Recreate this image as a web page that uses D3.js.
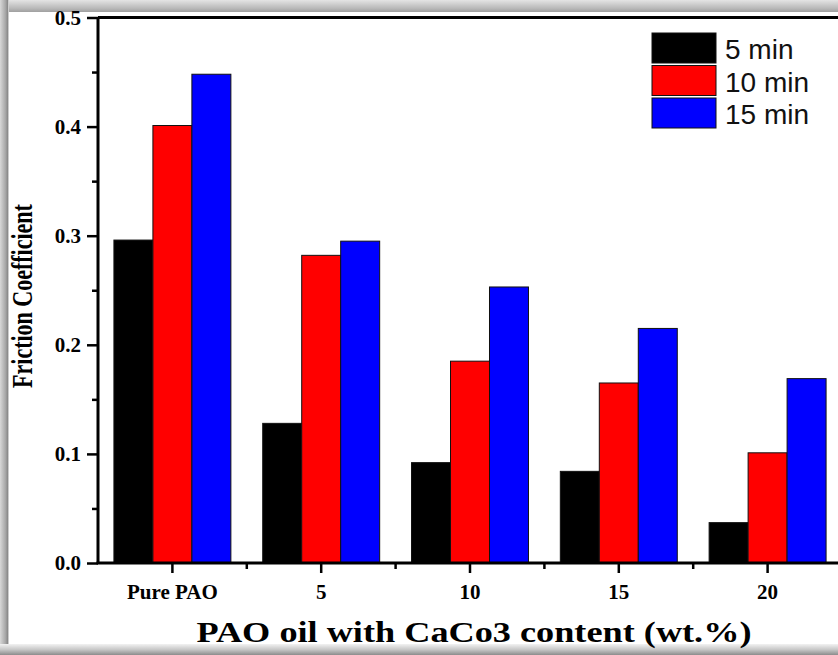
<!DOCTYPE html>
<html>
<head>
<meta charset="utf-8">
<script src="https://cdn.jsdelivr.net/npm/d3@7"></script>
<style>
  html, body { margin: 0; padding: 0; background: #fff; }
  svg { display: block; }
</style>
</head>
<body>
<svg id="chart" width="838" height="655"></svg>
<script>
// Friction coefficient of PAO oil with CaCO3 additive, measured after 5/10/15 min
const categories = ["Pure PAO", "5", "10", "15", "20"];
const seriesNames = ["5 min", "10 min", "15 min"];
const seriesColors = ["#000000", "#ff0000", "#0000ff"];
const values5min  = [0.296, 0.128, 0.092, 0.084, 0.037];
const values10min = [0.401, 0.282, 0.185, 0.165, 0.101];
const values15min = [0.448, 0.295, 0.253, 0.215, 0.169];
const yTicks = [0.0, 0.1, 0.2, 0.3, 0.4, 0.5];
const yMinorTicks = [0.05, 0.15, 0.25, 0.35, 0.45];

const seriesValues = [values5min, values10min, values15min];

const svg = d3.select("#chart");
const W = 838, H = 655;
const plot = { left: 98, right: 842, top: 17.5, bottom: 563 };

// Soft grey frame around the page edges
const defs = svg.append("defs");
function grad(id, x1, y1, x2, y2, stops) {
  const g = defs.append("linearGradient").attr("id", id)
    .attr("x1", x1).attr("y1", y1).attr("x2", x2).attr("y2", y2);
  stops.forEach(s => g.append("stop").attr("offset", s[0]).attr("stop-color", s[1]));
}
grad("gTop", 0, 0, 0, 1, [[0, "#e4e4e4"], [0.7, "#b8b8b8"], [1, "#a0a0a0"]]);
grad("gLeft", 0, 0, 1, 0, [[0, "#d8d8d8"], [0.6, "#a8a8a8"], [0.85, "#8a8a8a"], [1, "#f4f4f4"]]);
grad("gBottom", 0, 0, 0, 1, [[0, "#f2f2f2"], [0.5, "#c8c8c8"], [1, "#8c8c8c"]]);

svg.append("rect").attr("width", W).attr("height", H).attr("fill", "#fff");

// Edge shading (under the chart text)
svg.append("rect").attr("x", 0).attr("y", 0).attr("width", W).attr("height", 12).attr("fill", "url(#gTop)");
svg.append("rect").attr("x", 0).attr("y", 0).attr("width", 9).attr("height", H).attr("fill", "url(#gLeft)");
svg.append("rect").attr("x", 0).attr("y", 644).attr("width", W).attr("height", 11).attr("fill", "url(#gBottom)");

const x0 = d3.scaleBand().domain(categories).range([plot.left, plot.right])
  .paddingInner(0.214).paddingOuter(0.107);
const x1 = d3.scaleBand().domain(seriesNames).range([0, x0.bandwidth()]);
const y = d3.scaleLinear().domain([0, 0.5]).range([plot.bottom, plot.top]);

// Bars
const groups = svg.append("g").selectAll("g").data(categories).join("g")
  .attr("transform", d => `translate(${x0(d)},0)`);
groups.selectAll("rect")
  .data((c, i) => seriesNames.map((s, k) => ({ s, k, v: seriesValues[k][i] })))
  .join("rect")
  .attr("x", d => x1(d.s))
  .attr("width", x1.bandwidth())
  .attr("y", d => y(d.v))
  .attr("height", d => y(0) - y(d.v))
  .attr("fill", d => seriesColors[d.k])
  .attr("stroke", "#111")
  .attr("stroke-width", 1);

// Top frame line
svg.append("line").attr("x1", plot.left).attr("x2", W).attr("y1", plot.top).attr("y2", plot.top)
  .attr("stroke", "#000").attr("stroke-width", 3);

// Y axis
const yAxis = d3.axisLeft(y).tickValues(yTicks).tickFormat(d3.format(".1f"))
  .tickSize(11).tickPadding(6);
const gy = svg.append("g").attr("transform", `translate(${plot.left},0)`).call(yAxis);
gy.select(".domain").attr("stroke-width", 3).attr("d", `M0,${plot.top}V${plot.bottom}`);
gy.selectAll(".tick line").attr("stroke-width", 2.5);
gy.selectAll(".tick text").attr("font-family", "Liberation Serif").attr("font-weight", "bold")
  .attr("font-size", 21).attr("fill", "#000");
const gyMinor = svg.append("g").attr("transform", `translate(${plot.left},0)`)
  .call(d3.axisLeft(y).tickValues(yMinorTicks).tickSize(6).tickFormat(""));
gyMinor.select(".domain").remove();
gyMinor.selectAll(".tick line").attr("stroke-width", 2.5);

// X axis
const xAxis = d3.axisBottom(x0).tickSize(10).tickPadding(11).tickSizeOuter(0);
const gx = svg.append("g").attr("transform", `translate(0,${plot.bottom})`).call(xAxis);
gx.select(".domain").attr("stroke-width", 3).attr("d", `M${plot.left - 1.5},0H${W}`);
gx.selectAll(".tick line").attr("stroke-width", 2.5);
gx.selectAll(".tick text").attr("font-family", "Liberation Serif").attr("font-weight", "bold")
  .attr("font-size", 21).attr("fill", "#000");
const boundaries = categories.slice(0, -1).map(c => x0(c) + x0.bandwidth() + x0.step() * x0.paddingInner() / 2);
svg.append("g").selectAll("line").data(boundaries).join("line")
  .attr("x1", d => d).attr("x2", d => d)
  .attr("y1", plot.bottom).attr("y2", plot.bottom + 6)
  .attr("stroke", "#000").attr("stroke-width", 2.5);

// Axis titles
svg.append("text")
  .attr("x", 474).attr("y", 642)
  .attr("text-anchor", "middle")
  .attr("font-family", "Liberation Serif").attr("font-weight", "bold")
  .attr("font-size", 30).attr("fill", "#000")
  .attr("textLength", 555).attr("lengthAdjust", "spacingAndGlyphs")
  .text("PAO oil with CaCo3 content (wt.%)");
svg.append("text")
  .attr("transform", "translate(32,296) scale(1.35,1) rotate(-90)")
  .attr("text-anchor", "middle")
  .attr("font-family", "Liberation Serif").attr("font-weight", "bold")
  .attr("font-size", 22).attr("fill", "#000")
  .text("Friction Coefficient");

// Legend
const legend = svg.append("g").attr("transform", "translate(652,33)");
const items = legend.selectAll("g").data(seriesNames).join("g")
  .attr("transform", (d, i) => `translate(0,${i * 32.5})`);
items.append("rect").attr("width", 64).attr("height", 30)
  .attr("fill", (d, i) => seriesColors[i]).attr("stroke", "#111").attr("stroke-width", 1);
items.append("text").attr("x", 73).attr("y", 26)
  .attr("font-family", "Liberation Sans").attr("font-size", 28).attr("fill", "#111")
  .text(d => d);
</script>
</body>
</html>
